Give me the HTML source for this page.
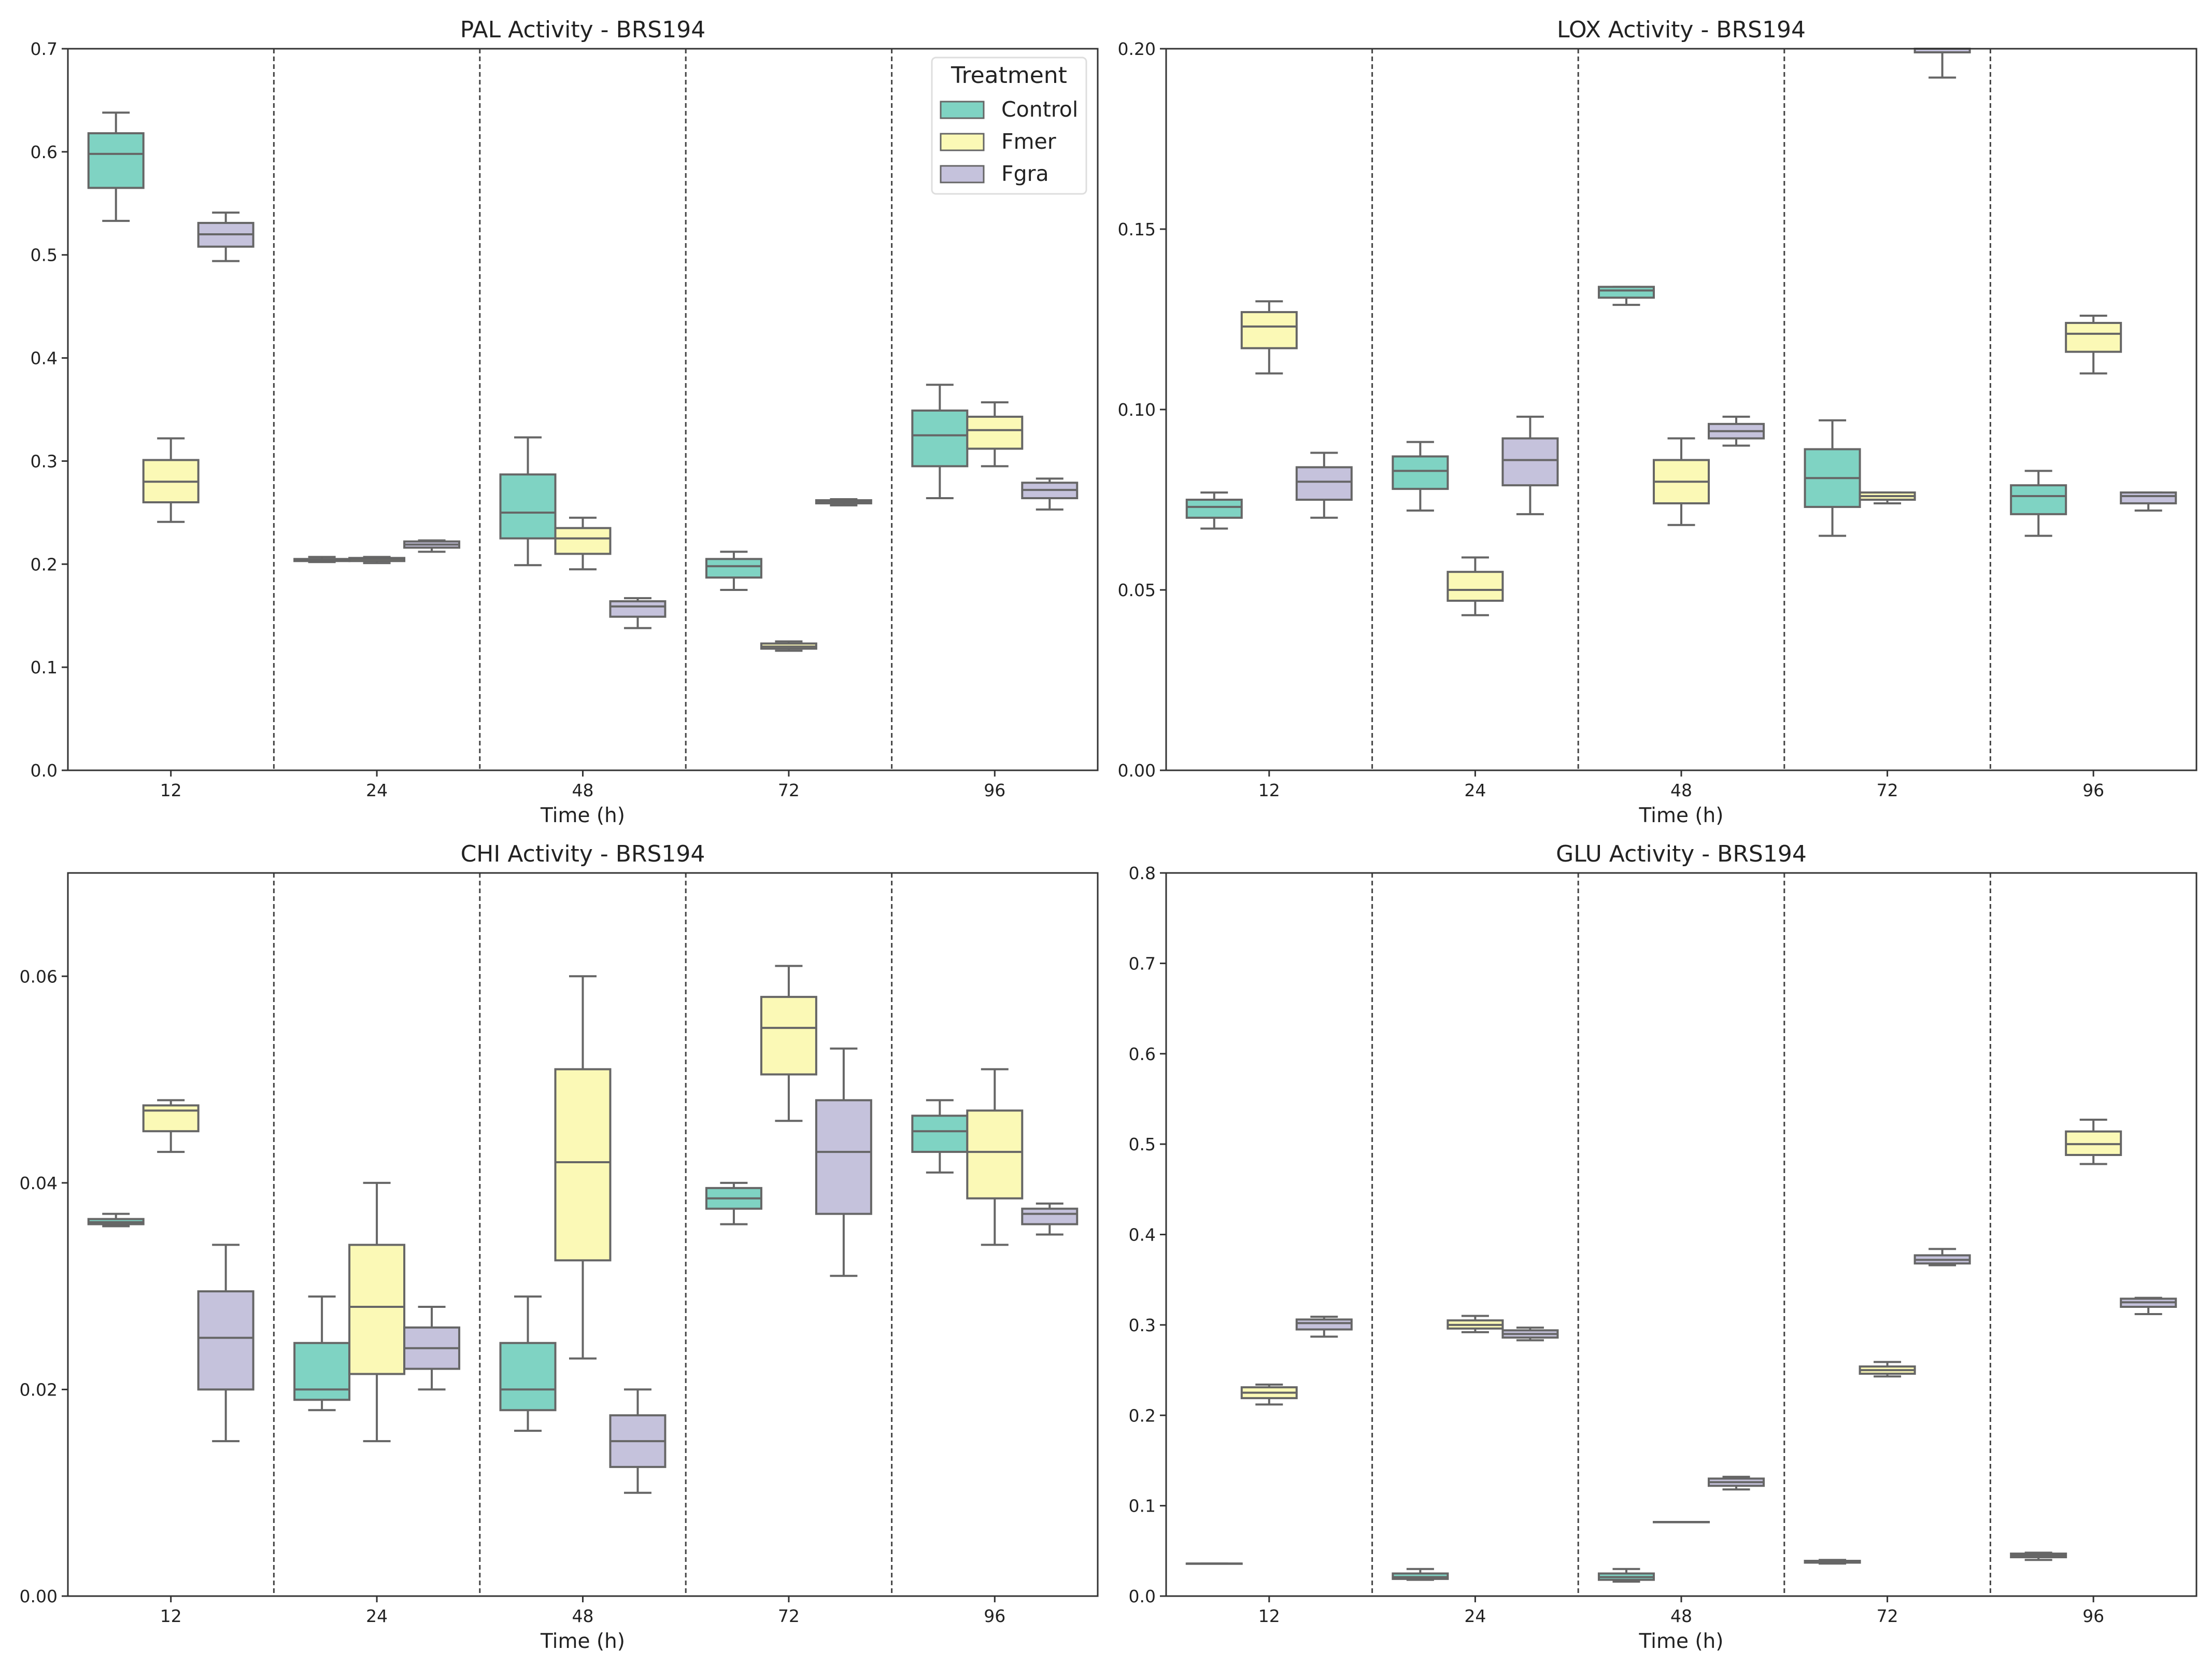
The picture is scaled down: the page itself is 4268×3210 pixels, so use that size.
<!DOCTYPE html>
<html><head><meta charset="utf-8"><style>
html,body{margin:0;padding:0;background:#fff;}
svg{display:block;font-family:"DejaVu Sans","Liberation Sans",sans-serif;}
</style></head><body>
<svg id="chart" width="4268" height="3210" viewBox="0 0 4268 3210" xmlns="http://www.w3.org/2000/svg"></svg>
<script>
const categories = ["12","24","48","72","96"];
const treatments = ["Control","Fmer","Fgra"];
// each box: [whiskerLow, q1, median, q3, whiskerHigh]
const palControl = [[0.533,0.565,0.598,0.618,0.638],[0.202,0.203,0.204,0.205,0.207],[0.199,0.225,0.250,0.287,0.323],[0.175,0.187,0.198,0.205,0.212],[0.264,0.295,0.325,0.349,0.374]];
const palFmer = [[0.241,0.260,0.280,0.301,0.322],[0.201,0.203,0.205,0.206,0.207],[0.195,0.210,0.225,0.235,0.245],[0.116,0.118,0.120,0.123,0.125],[0.295,0.312,0.330,0.343,0.357]];
const palFgra = [[0.494,0.508,0.520,0.531,0.541],[0.212,0.216,0.219,0.222,0.223],[0.138,0.149,0.159,0.164,0.167],[0.257,0.259,0.261,0.262,0.263],[0.253,0.264,0.272,0.279,0.283]];
const loxControl = [[0.067,0.070,0.073,0.075,0.077],[0.072,0.078,0.083,0.087,0.091],[0.129,0.131,0.133,0.134,0.134],[0.065,0.073,0.081,0.089,0.097],[0.065,0.071,0.076,0.079,0.083]];
const loxFmer = [[0.110,0.117,0.123,0.127,0.130],[0.043,0.047,0.050,0.055,0.059],[0.068,0.074,0.080,0.086,0.092],[0.074,0.075,0.076,0.077,0.077],[0.110,0.116,0.121,0.124,0.126]];
const loxFgra = [[0.070,0.075,0.080,0.084,0.088],[0.071,0.079,0.086,0.092,0.098],[0.090,0.092,0.094,0.096,0.098],[0.192,0.199,0.200,0.201,0.201],[0.072,0.074,0.076,0.077,0.077]];
const chiControl = [[0.0358,0.0360,0.0362,0.0365,0.0370],[0.018,0.019,0.020,0.0245,0.029],[0.016,0.018,0.020,0.0245,0.029],[0.036,0.0375,0.0385,0.0395,0.040],[0.041,0.043,0.045,0.0465,0.048]];
const chiFmer = [[0.043,0.045,0.047,0.0475,0.048],[0.015,0.0215,0.028,0.034,0.040],[0.023,0.0325,0.042,0.051,0.060],[0.046,0.0505,0.055,0.058,0.061],[0.034,0.0385,0.043,0.047,0.051]];
const chiFgra = [[0.015,0.020,0.025,0.0295,0.034],[0.020,0.022,0.024,0.026,0.028],[0.010,0.0125,0.015,0.0175,0.020],[0.031,0.037,0.043,0.048,0.053],[0.035,0.036,0.037,0.0375,0.038]];
const gluControl = [[0.036,0.036,0.036,0.036,0.036],[0.018,0.019,0.021,0.025,0.030],[0.016,0.018,0.021,0.025,0.030],[0.036,0.037,0.038,0.039,0.040],[0.040,0.043,0.045,0.047,0.048]];
const gluFmer = [[0.212,0.219,0.225,0.231,0.234],[0.292,0.296,0.300,0.305,0.310],[0.082,0.082,0.082,0.082,0.082],[0.243,0.246,0.250,0.254,0.259],[0.478,0.488,0.500,0.514,0.527]];
const gluFgra = [[0.287,0.295,0.302,0.306,0.309],[0.283,0.286,0.290,0.294,0.297],[0.118,0.122,0.126,0.130,0.132],[0.366,0.368,0.372,0.377,0.384],[0.312,0.320,0.325,0.329,0.330]];
const palTicks = ["0.0","0.1","0.2","0.3","0.4","0.5","0.6","0.7"];
const loxTicks = ["0.00","0.05","0.10","0.15","0.20"];
const chiTicks = ["0.00","0.02","0.04","0.06"];
const gluTicks = ["0.0","0.1","0.2","0.3","0.4","0.5","0.6","0.7","0.8"];

const colors = ["#7fd3c3","#fbf9b6","#c5c2dc"];
const edge = "#666666";
const NS = "http://www.w3.org/2000/svg";
const svg = document.getElementById("chart");

function mk(tag, attrs, parent){
  const e = document.createElementNS(NS, tag);
  for (const k in attrs) e.setAttribute(k, attrs[k]);
  (parent||svg).appendChild(e);
  return e;
}

const panels = [
  {id:"pal", title:"PAL Activity - BRS194", x0:131, x1:2118, y0:94, y1:1486, ymax:0.7, ticks:palTicks, series:[palControl,palFmer,palFgra], legend:true},
  {id:"lox", title:"LOX Activity - BRS194", x0:2250, x1:4238, y0:94, y1:1486, ymax:0.20, ticks:loxTicks, series:[loxControl,loxFmer,loxFgra]},
  {id:"chi", title:"CHI Activity - BRS194", x0:131, x1:2118, y0:1684, y1:3079, ymax:0.07, ticks:chiTicks, series:[chiControl,chiFmer,chiFgra]},
  {id:"glu", title:"GLU Activity - BRS194", x0:2250, x1:4238, y0:1684, y1:3079, ymax:0.8, ticks:gluTicks, series:[gluControl,gluFmer,gluFgra]}
];

panels.forEach(p => {
  const g = mk("g", {});
  
  
  const W = p.x1 - p.x0, H = p.y1 - p.y0;
  const n = categories.length, cw = W / n;
  const yS = v => p.y1 - (Math.min(v, p.ymax) / p.ymax) * H;
  const xS = i => p.x0 + cw * (i + 0.5);

  // dashed separators
  for (let i = 1; i < n; i++) {
    const l = mk("line", {x1:p.x0+cw*i, x2:p.x0+cw*i, y1:p.y0, y2:p.y1, stroke:"#444", "stroke-width":3, "stroke-dasharray":"9,6"}, g);
    
    
  }

  // boxes
  const bw = cw * 0.8 / 3;
  p.series.forEach((ser, s) => {
    ser.forEach((b, i) => {
      const cx = xS(i) + (s - 1) * bw;
      const bg = mk("g", {}, g);
      
      
      mk("line", {x1:cx, x2:cx, y1:yS(b[0]), y2:yS(b[1]), stroke:edge, "stroke-width":4}, bg);
      mk("line", {x1:cx, x2:cx, y1:yS(b[3]), y2:yS(b[4]), stroke:edge, "stroke-width":4}, bg);
      mk("line", {x1:cx-bw/4, x2:cx+bw/4, y1:yS(b[0]), y2:yS(b[0]), stroke:edge, "stroke-width":4}, bg);
      mk("line", {x1:cx-bw/4, x2:cx+bw/4, y1:yS(b[4]), y2:yS(b[4]), stroke:edge, "stroke-width":4}, bg);
      mk("rect", {x:cx-bw/2, y:yS(b[3]), width:bw, height:Math.max(yS(b[1])-yS(b[3]),0.5), fill:colors[s], stroke:edge, "stroke-width":4}, bg);
      mk("line", {x1:cx-bw/2, x2:cx+bw/2, y1:yS(b[2]), y2:yS(b[2]), stroke:edge, "stroke-width":4}, bg);
    });
  });

  // frame
  const fr = mk("rect", {x:p.x0, y:p.y0, width:W, height:H, fill:"none", stroke:"#333", "stroke-width":3}, g);
  
  

  // y ticks
  const yt = mk("g", {}, g);
  
  
  const nt = p.ticks.length;
  p.ticks.forEach((t, k) => {
    const y = p.y1 - H * (parseFloat(t) / p.ymax);
    mk("line", {x1:p.x0-12, x2:p.x0, y1:y, y2:y, stroke:"#333", "stroke-width":3}, yt);
    const tx = mk("text", {x:p.x0-20, y:y+12, "text-anchor":"end", "font-size":33, fill:"#222"}, yt);
    tx.textContent = t;
  });
  // x ticks
  const xt = mk("g", {}, g);
  
  
  categories.forEach((c, i) => {
    mk("line", {x1:xS(i), x2:xS(i), y1:p.y1, y2:p.y1+12, stroke:"#333", "stroke-width":3}, xt);
    const tx = mk("text", {x:xS(i), y:p.y1+50, "text-anchor":"middle", "font-size":33, fill:"#222"}, xt);
    tx.textContent = c;
  });
  const xl = mk("text", {x:p.x0+W/2, y:p.y1+100, "text-anchor":"middle", "font-size":39, fill:"#222"}, g);
  
  
  xl.textContent = "Time (h)";
  const tt = mk("text", {x:p.x0+W/2, y:p.y0-22, "text-anchor":"middle", "font-size":44, fill:"#222"}, g);
  
  
  tt.textContent = p.title;

  if (p.legend) {
    const lg = mk("g", {}, g);
    
    
    mk("rect", {x:1798, y:111, width:298, height:263, rx:8, fill:"#fff", stroke:"#ddd", "stroke-width":3, opacity:0.95}, lg);
    const lt = mk("text", {x:1947, y:160, "text-anchor":"middle", "font-size":44, fill:"#222"}, lg);
    lt.textContent = "Treatment";
    treatments.forEach((t, s) => {
      const y = 196 + s * 62;
      const e = mk("g", {}, lg);
      
      
      mk("rect", {x:1815, y:y, width:83, height:32, fill:colors[s], stroke:edge, "stroke-width":3}, e);
      const tx = mk("text", {x:1932, y:y+29, "font-size":41, fill:"#222"}, e);
      tx.textContent = t;
    });
  }
});
</script>
</body></html>
